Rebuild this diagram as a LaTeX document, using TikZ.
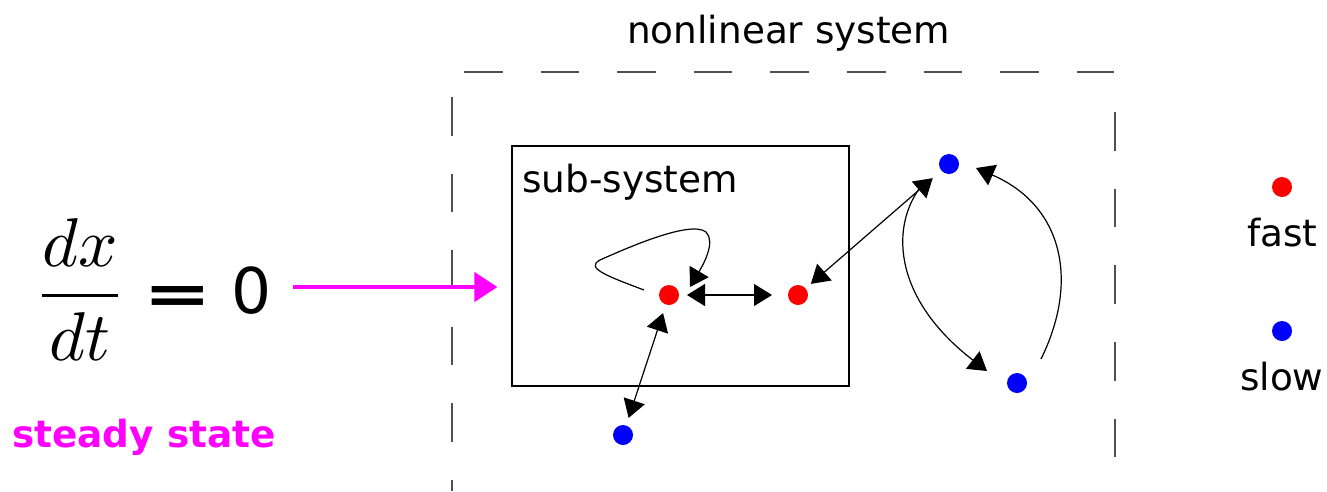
\documentclass[tikz,border=0pt]{standalone}
\usepackage{fontspec}
\setmainfont{DejaVu Sans}
\usetikzlibrary{arrows.meta,calc}
\definecolor{mag}{RGB}{255,0,255}
\definecolor{dashgray}{RGB}{80,80,80}
\begin{document}
\begin{tikzpicture}[x=1pt,y=-1pt,
  dot/.style={circle,inner sep=0pt,outer sep=0pt,minimum size=20pt},
  fastdot/.style={dot,fill=red},
  slowdot/.style={dot,fill=blue},
  lbl/.style={inner sep=0pt,anchor=base west,font=\fontsize{37.4}{44}\selectfont},
  link/.style={line width=1.2pt,-{Triangle[length=18pt,width=22pt]}},
  blink/.style={line width=1.2pt,{Triangle[length=18pt,width=22pt]}-{Triangle[length=18pt,width=22pt]}},
  outerdash/.style={draw=dashgray,line width=1.3pt},
]
\useasboundingbox (0,0) rectangle (1327,491);

% outer dashed frame (nonlinear system)
\draw[outerdash,dash pattern=on 38.5pt off 38.1pt] (464,72) -- (1114,72);
\draw[outerdash,dash pattern=on 38.5pt off 38pt] (452,97) -- (452,491);
\draw[outerdash,dash pattern=on 38.5pt off 38.2pt] (1115,112) -- (1115,457);
\node[lbl] (title) at (627,43) {nonlinear system};

% sub-system box
\node[draw,line width=1.2pt,minimum width=337pt,minimum height=240pt,inner sep=0pt] (sub) at (680.5,266) {};
\node[lbl] (sublbl) at (522,192) {sub-system};

% equation
\node[inner sep=0pt,anchor=base west] (frac) at (33.7,313) {\scalebox{6.9}{$\displaystyle\frac{dx}{dt}$}};
\node[inner sep=0pt,anchor=base west] (eq) at (143.6,313) {\scalebox{0.92}[0.63]{\fontsize{89}{100}\selectfont\bfseries =}};
\node[inner sep=0pt,anchor=base west] (zero) at (231,313) {\fontsize{63}{70}\selectfont 0};
\node[lbl,text=mag,font=\fontsize{37.4}{44}\selectfont\bfseries] (steady) at (12,447) {steady state};

% magenta arrow
\coordinate (mstart) at (293,287);
\draw[draw=mag,line width=4.3pt,-{Triangle[length=23pt,width=29pt]},shorten >=14pt] (mstart) -- (mstart -| sub.west);

% dots
\node[fastdot] (r1) at (669,295) {};
\node[fastdot] (r2) at (798,295) {};
\node[slowdot] (bl) at (623,435) {};
\node[slowdot] (bt) at (949,164) {};
\node[slowdot] (bb) at (1017,383) {};

% connectors
\draw[blink,shorten <=8pt,shorten >=16pt] (r1) -- (r2);
\draw[blink,shorten <=9pt,shorten >=8pt] (r1) -- (bl);
\draw[blink,shorten <=7pt,shorten >=11.6pt] (r2) -- (bt);
\draw[link] ($(r1)+(-25,-5)$) .. controls ($(r1)+(-62,-19)$) and ($(r1)+(-84,-27)$) .. ($(r1)+(-69,-35)$)
  .. controls ($(r1)+(-40,-48)$) and ($(r1)+(22,-75)$) .. ($(r1)+(37,-63)$)
  .. controls ($(r1)+(47,-53)$) and ($(r1)+(34,-30)$) .. ($(r1)+(21,-8)$);
\draw[link] ($(bt)+(-30,25)$) .. controls ($(bt)+(-59,66)$) and ($(bb)+(-122,-83)$) .. ($(bb)+(-30,-12)$);
\draw[link] ($(bb)+(24,-24)$) .. controls ($(bb)+(63,-103)$) and ($(bt)+(113,41)$) .. ($(bt)+(27,4)$);

% legend
\node[fastdot] (lfast) at (1282,187) {};
\node[lbl] (tfast) at (1247,246) {fast};
\node[slowdot] (lslow) at (1282,331) {};
\node[lbl] (tslow) at (1240,390) {slow};
\end{tikzpicture}
\end{document}
